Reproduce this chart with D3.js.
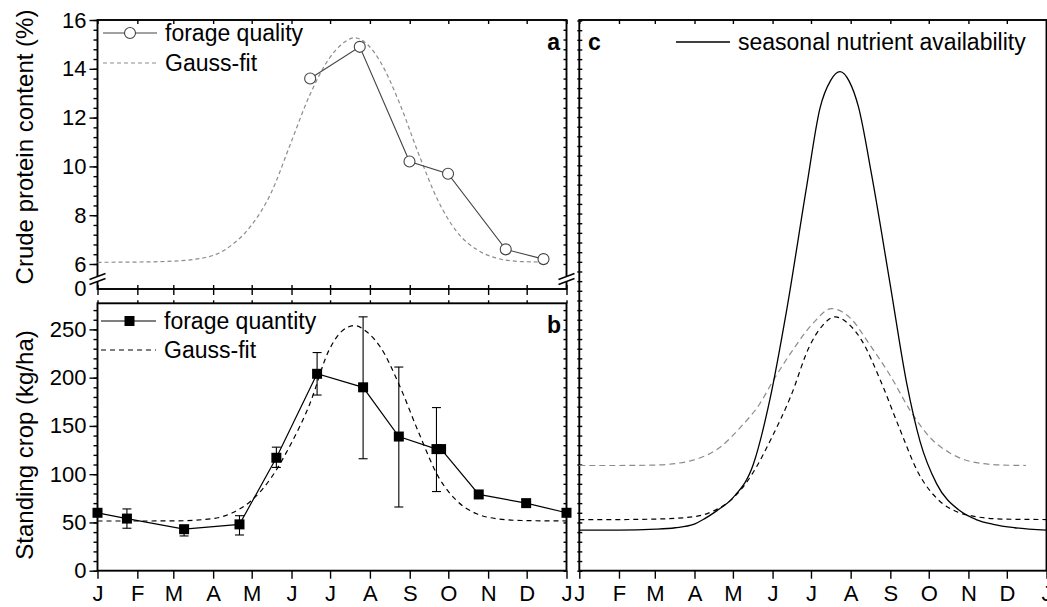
<!DOCTYPE html>
<html>
<head>
<meta charset="utf-8">
<script src="https://cdn.jsdelivr.net/npm/d3@7"></script>
<style>
  body { margin: 0; background: #fff; }
  svg text { font-family: "Liberation Sans", Arial, Helvetica, sans-serif; fill: #000; }
</style>
</head>
<body>
<div id="chart"></div>
<script>

// month ticks (day of year)
var months = ["J", "F", "M", "A", "M", "J", "J", "A", "S", "O", "N", "D", "J"];
var monthDays = [0, 31, 59, 90, 120, 151, 181, 212, 243, 273, 304, 334, 365];

// panel a - forage quality (crude protein %)
var qualityDays = [165.5, 204.1, 242.8, 272.8, 317.7, 347.1];
var qualityValues = [13.6, 14.9, 10.2, 9.7, 6.6, 6.2];
var qualityFitDays = [0, 30, 60, 90, 105, 120, 135, 150, 165, 180, 190, 200, 210, 220, 235, 250, 265, 280, 295, 310, 330, 347];
var qualityFitValues = [6.07, 6.08, 6.12, 6.35, 6.8, 7.6, 8.9, 10.9, 12.9, 14.4, 15.0, 15.27, 15.0, 14.3, 12.6, 10.5, 8.6, 7.3, 6.6, 6.25, 6.1, 6.08];
var qualityTicks = [6, 8, 10, 12, 14, 16];

// panel b - forage quantity (standing crop kg/ha)
var quantityDays = [0, 22.9, 67.4, 110.5, 139.2, 170.9, 206.7, 234.5, 263.8, 267.4, 296.7, 333.6, 365];
var quantityValues = [60, 54, 43, 48, 117, 204, 190, 139, 126, 126, 79, 70, 60];
var quantityErrHigh = [null, 64, 46, 57, 128, 226, 263, 211, 169, null, null, null, null];
var quantityErrLow = [null, 44, 36, 37, 107, 182, 116, 66, 82, null, null, null, null];
var quantityFitDays = [0, 30, 60, 90, 105, 120, 135, 150, 165, 180, 190, 200, 210, 220, 235, 250, 265, 280, 295, 310, 330, 365];
var quantityFitValues = [51.5, 51.5, 51.6, 54, 60, 73, 96, 130, 172, 228, 248, 254, 247, 232, 192, 143, 98, 72, 59, 54, 52, 51.5];
var quantityTicks = [0, 50, 100, 150, 200, 250];

// panel c - seasonal nutrient availability (same vertical units as b)
var cQualityDays = [0, 30, 60, 75, 89, 100, 110, 125.5, 141, 151.5, 167, 183, 197, 211.5, 227, 243, 258.5, 274, 289.5, 308, 330, 349];
var cQualityValues = [109, 109, 109.5, 111, 114.5, 120, 128, 148, 173, 197, 229, 257, 271.5, 262, 234, 202, 166, 138, 122, 112.5, 109.5, 109];
var cQuantityDays = [0, 30, 60, 90, 105, 120, 135, 150, 165, 180, 190, 200, 210, 220, 235, 250, 265, 280, 295, 310, 330, 365];
var cQuantityValues = [53, 53, 53.5, 56, 62, 75, 100, 137, 180, 233, 254, 263, 256, 240, 198, 148, 101, 74, 61, 56, 53.5, 53];
var availDays = [0, 30, 60, 75, 89.3, 98, 107.3, 120.3, 135.9, 149, 162, 177.6, 188, 196.4, 203.7, 210.9, 218, 228.4, 242.7, 255.8, 266.2, 279.2, 297.4, 310, 323.4, 340, 365];
var availValues = [42, 42, 43, 44.5, 48, 54, 62, 76, 110, 178, 270, 398, 479, 508, 517, 507, 481, 410, 298, 194, 134, 90, 62, 53, 48, 44.5, 42];


var fontSize = 23, tickFontSize = 22, titleFontSize = 24;
var width = 1047, height = 607;

// panel frames
var lx0 = 97.5, lx1 = 566.5, rx0 = 579.3, rx1 = 1046.5;
var aTop = 20, aBottom = 289, bTop = 303.3, bBottom = 570.7;

var svg = d3.select("#chart").append("svg")
    .attr("width", width)
    .attr("height", height);

svg.append("rect").attr("width", width).attr("height", height).attr("fill", "#fff");

// scales
var xL = d3.scaleLinear().domain([0, 365]).range([lx0, lx1]);
var xR = d3.scaleLinear().domain([0, 365]).range([rx0, rx1]);
var yA = d3.scaleLinear().domain([6, 16]).range([264, aTop]);
var yB = d3.scaleLinear().domain([0, 250]).range([bBottom, 329.4]);
var yC = yB;

function pairs(xs, ys) {
    return xs.map(function(d, i) { return [d, ys[i]]; });
}

function styleAxis(g) {
    g.select(".domain").remove();
    g.selectAll(".tick line").attr("stroke", "#000").attr("stroke-width", 1.4);
    g.selectAll("text")
        .attr("font-size", tickFontSize)
        .attr("font-family", "Liberation Sans, Arial, sans-serif")
        .attr("fill", "#000");
    g.attr("font-family", null).attr("font-size", null);
}

function addAxis(axis, tx, ty) {
    var g = svg.append("g").attr("transform", "translate(" + tx + "," + ty + ")").call(axis);
    styleAxis(g);
    return g;
}

function frame(x0, y0, x1, y1) {
    svg.append("rect")
        .attr("x", x0).attr("y", y0)
        .attr("width", x1 - x0).attr("height", y1 - y0)
        .attr("fill", "none")
        .attr("stroke", "#000")
        .attr("stroke-width", 1.9);
}

function breakMark(x, y) {
    svg.append("rect").attr("x", x - 3).attr("y", y - 3).attr("width", 6).attr("height", 6).attr("fill", "#fff");
    [-2.5, 2.5].forEach(function(o) {
        svg.append("line")
            .attr("x1", x - 8).attr("y1", y + o + 3)
            .attr("x2", x + 8).attr("y2", y + o - 3)
            .attr("stroke", "#000").attr("stroke-width", 1.6);
    });
}

var monthTickFormat = function(d, i) { return months[i]; };

// ---------- panel a ----------
var minorA = d3.range(6, 16.01, 0.4);
var minorB = d3.range(0, 271, 10);
var minorC = d3.range(0, 571, 10);

addAxis(d3.axisLeft(yA).tickValues(minorA).tickSize(4).tickFormat(""), lx0, 0);
addAxis(d3.axisLeft(yA).tickValues(qualityTicks).tickSize(8).tickPadding(3), lx0, 0);
addAxis(d3.axisLeft(yA).tickValues(minorA).tickSize(3).tickFormat(""), lx1, 0);
addAxis(d3.axisBottom(xL).tickValues(monthDays).tickSize(4).tickFormat(""), 0, aTop);
addAxis(d3.axisBottom(xL).tickValues(monthDays).tickSize(6).tickFormat(""), 0, aBottom);
addAxis(d3.axisTop(xL).tickValues(monthDays).tickSize(4).tickFormat(""), 0, aBottom);
frame(lx0, aTop, lx1, aBottom);

// broken axis: "0" below the break
svg.append("text")
    .attr("x", lx0 - 11).attr("y", 288.5).attr("dy", "0.35em")
    .attr("text-anchor", "end").attr("font-size", tickFontSize)
    .text("0");
breakMark(lx0, 279);
breakMark(lx1, 279);

svg.append("path")
    .datum(pairs(qualityFitDays, qualityFitValues))
    .attr("fill", "none")
    .attr("stroke", "#8c8c8c")
    .attr("stroke-width", 1.2)
    .attr("stroke-dasharray", "4,3")
    .attr("d", d3.line().x(function(d) { return xL(d[0]); }).y(function(d) { return yA(d[1]); }).curve(d3.curveMonotoneX));

svg.append("path")
    .datum(pairs(qualityDays, qualityValues))
    .attr("fill", "none")
    .attr("stroke", "#444")
    .attr("stroke-width", 1.1)
    .attr("d", d3.line().x(function(d) { return xL(d[0]); }).y(function(d) { return yA(d[1]); }));

svg.selectAll("circle.quality")
    .data(pairs(qualityDays, qualityValues))
    .enter()
    .append("circle")
    .attr("class", "quality")
    .attr("cx", function(d) { return xL(d[0]); })
    .attr("cy", function(d) { return yA(d[1]); })
    .attr("r", 5.5)
    .attr("fill", "#fff")
    .attr("stroke", "#444")
    .attr("stroke-width", 1.1);

// legend a
svg.append("line").attr("x1", 103).attr("x2", 157).attr("y1", 33).attr("y2", 33).attr("stroke", "#444").attr("stroke-width", 1.1);
svg.append("circle").attr("cx", 130).attr("cy", 33).attr("r", 5.5).attr("fill", "#fff").attr("stroke", "#444").attr("stroke-width", 1.1);
svg.append("text").attr("x", 165).attr("y", 33).attr("dy", "0.35em").attr("font-size", fontSize).text("forage quality");
svg.append("line").attr("x1", 103).attr("x2", 157).attr("y1", 63).attr("y2", 63).attr("stroke", "#8c8c8c").attr("stroke-width", 1.2).attr("stroke-dasharray", "4,3");
svg.append("text").attr("x", 165).attr("y", 63).attr("dy", "0.35em").attr("font-size", fontSize).text("Gauss-fit");
svg.append("text").attr("x", 560).attr("y", 50).attr("text-anchor", "end").attr("font-size", fontSize).attr("font-weight", "bold").text("a");

svg.append("text")
    .attr("transform", "translate(25,147) rotate(-90)")
    .attr("dy", "0.35em")
    .attr("text-anchor", "middle")
    .attr("font-size", titleFontSize)
    .text("Crude protein content (%)");

// ---------- panel b ----------
addAxis(d3.axisLeft(yB).tickValues(minorB).tickSize(4).tickFormat(""), lx0, 0);
addAxis(d3.axisLeft(yB).tickValues(quantityTicks).tickSize(8).tickPadding(3), lx0, 0);
addAxis(d3.axisLeft(yB).tickValues(minorB).tickSize(3).tickFormat(""), lx1, 0);
addAxis(d3.axisTop(xL).tickValues(monthDays).tickSize(3).tickFormat(""), 0, bTop);
addAxis(d3.axisBottom(xL).tickValues(monthDays).tickSize(8).tickPadding(7).tickFormat(monthTickFormat), 0, bBottom);
frame(lx0, bTop, lx1, bBottom);

svg.append("path")
    .datum(pairs(quantityFitDays, quantityFitValues))
    .attr("fill", "none")
    .attr("stroke", "#000")
    .attr("stroke-width", 1.2)
    .attr("stroke-dasharray", "5,4")
    .attr("d", d3.line().x(function(d) { return xL(d[0]); }).y(function(d) { return yB(d[1]); }).curve(d3.curveMonotoneX));

svg.append("path")
    .datum(pairs(quantityDays, quantityValues))
    .attr("fill", "none")
    .attr("stroke", "#000")
    .attr("stroke-width", 1.2)
    .attr("d", d3.line().x(function(d) { return xL(d[0]); }).y(function(d) { return yB(d[1]); }));

var errData = quantityDays.map(function(d, i) {
    return { day: d, hi: quantityErrHigh[i], lo: quantityErrLow[i] };
}).filter(function(d) { return d.hi !== null; });

var errG = svg.selectAll("g.err").data(errData).enter().append("g").attr("class", "err");
errG.append("line")
    .attr("x1", function(d) { return xL(d.day); }).attr("x2", function(d) { return xL(d.day); })
    .attr("y1", function(d) { return yB(d.hi); }).attr("y2", function(d) { return yB(d.lo); })
    .attr("stroke", "#000").attr("stroke-width", 1.1);
errG.selectAll("line.cap")
    .data(function(d) { return [{ day: d.day, v: d.hi }, { day: d.day, v: d.lo }]; })
    .enter().append("line").attr("class", "cap")
    .attr("x1", function(d) { return xL(d.day) - 4.5; }).attr("x2", function(d) { return xL(d.day) + 4.5; })
    .attr("y1", function(d) { return yB(d.v); }).attr("y2", function(d) { return yB(d.v); })
    .attr("stroke", "#000").attr("stroke-width", 1.1);

svg.selectAll("rect.quantity")
    .data(pairs(quantityDays, quantityValues))
    .enter()
    .append("rect")
    .attr("class", "quantity")
    .attr("x", function(d) { return xL(d[0]) - 5; })
    .attr("y", function(d) { return yB(d[1]) - 5; })
    .attr("width", 10)
    .attr("height", 10)
    .attr("fill", "#000");

// legend b
svg.append("line").attr("x1", 101).attr("x2", 156).attr("y1", 321).attr("y2", 321).attr("stroke", "#000").attr("stroke-width", 1.2);
svg.append("rect").attr("x", 124.5).attr("y", 316).attr("width", 10).attr("height", 10).attr("fill", "#000");
svg.append("text").attr("x", 164).attr("y", 321).attr("dy", "0.35em").attr("font-size", fontSize).text("forage quantity");
svg.append("line").attr("x1", 101).attr("x2", 156).attr("y1", 350).attr("y2", 350).attr("stroke", "#000").attr("stroke-width", 1.2).attr("stroke-dasharray", "5,4");
svg.append("text").attr("x", 164).attr("y", 350).attr("dy", "0.35em").attr("font-size", fontSize).text("Gauss-fit");
svg.append("text").attr("x", 561).attr("y", 333).attr("text-anchor", "end").attr("font-size", fontSize).attr("font-weight", "bold").text("b");

svg.append("text")
    .attr("transform", "translate(25,445) rotate(-90)")
    .attr("dy", "0.35em")
    .attr("text-anchor", "middle")
    .attr("font-size", titleFontSize)
    .text("Standing crop (kg/ha)");

// ---------- panel c ----------
addAxis(d3.axisRight(yC).tickValues(minorC).tickSize(3).tickFormat(""), rx0, 0);
addAxis(d3.axisLeft(yC).tickValues(minorC).tickSize(2).tickFormat(""), rx0, 0);
addAxis(d3.axisBottom(xR).tickValues(monthDays).tickSize(4).tickFormat(""), 0, aTop);
addAxis(d3.axisBottom(xR).tickValues(monthDays).tickSize(8).tickPadding(7).tickFormat(monthTickFormat), 0, bBottom);
frame(rx0, aTop, rx1, bBottom);

var lineC = d3.line().x(function(d) { return xR(d[0]); }).y(function(d) { return yC(d[1]); }).curve(d3.curveMonotoneX);

svg.append("path")
    .datum(pairs(cQualityDays, cQualityValues))
    .attr("fill", "none")
    .attr("stroke", "#8c8c8c")
    .attr("stroke-width", 1.2)
    .attr("stroke-dasharray", "6,4")
    .attr("d", lineC);

svg.append("path")
    .datum(pairs(cQuantityDays, cQuantityValues))
    .attr("fill", "none")
    .attr("stroke", "#000")
    .attr("stroke-width", 1.2)
    .attr("stroke-dasharray", "5,4")
    .attr("d", lineC);

svg.append("path")
    .datum(pairs(availDays, availValues))
    .attr("fill", "none")
    .attr("stroke", "#000")
    .attr("stroke-width", 1.3)
    .attr("d", lineC);

svg.append("text").attr("x", 588).attr("y", 50).attr("font-size", fontSize).attr("font-weight", "bold").text("c");
svg.append("line").attr("x1", 676).attr("x2", 730).attr("y1", 42).attr("y2", 42).attr("stroke", "#000").attr("stroke-width", 1.3);
svg.append("text").attr("x", 738).attr("y", 42).attr("dy", "0.35em").attr("font-size", fontSize).text("seasonal nutrient availability");

</script>
</body>
</html>
